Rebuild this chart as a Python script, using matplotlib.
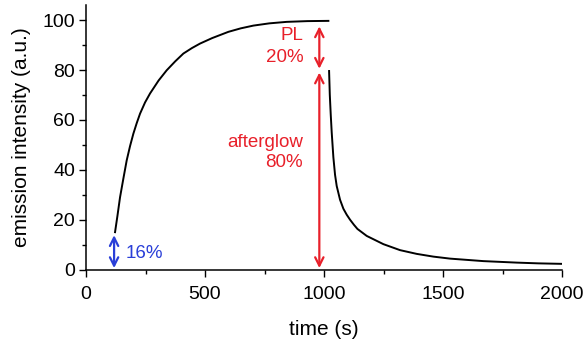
import matplotlib
matplotlib.use("Agg")
import matplotlib.pyplot as plt

plt.rcParams['font.family'] = ['Liberation Sans', 'DejaVu Sans']

# rise (excitation on)
rise_t = [122, 132, 143, 157, 171, 185, 199, 213, 227, 248, 269, 305, 339, 375, 409,
          445, 479, 530, 598, 650, 703, 770, 843, 930, 1018]
rise_y = [15, 21.5, 29, 36.5, 43.8, 49.5, 54.5, 58.7, 62.5, 67, 70.6, 75.8, 79.9, 83.5, 86.6,
          88.8, 90.6, 92.8, 95.3, 96.7, 97.8, 98.7, 99.3, 99.6, 99.7]

# decay (afterglow)
decay_t = [1021, 1024, 1028, 1032, 1039, 1046, 1053, 1067, 1081, 1095, 1109, 1125, 1140, 1179,
           1249, 1319, 1389, 1459, 1529, 1669, 1809, 1900, 2000]
decay_y = [79.6, 70, 62, 55, 45, 38, 33.5, 28, 24.4, 22, 20, 18, 16.3, 13.5,
           10.2, 7.8, 6.3, 5.2, 4.4, 3.4, 2.8, 2.5, 2.3]

xticks = [0, 500, 1000, 1500, 2000]
yticks = [0, 20, 40, 60, 80, 100]

red = '#e8202a'
blue = '#2a3fd8'

fig = plt.figure(figsize=(5.85, 3.43), dpi=100)
ax = fig.add_axes([0.147, 0.214, 0.814, 0.771])

ax.plot(rise_t, rise_y, color='black', lw=1.4, solid_joinstyle='round')
ax.plot(decay_t, decay_y, color='black', lw=1.4, solid_joinstyle='round')

ax.set_xlim(0, 2000)
ax.set_ylim(0, 106)
ax.set_xticks(xticks)
ax.set_yticks(yticks)
ax.set_xticks([250, 750, 1250, 1750], minor=True)
ax.set_yticks([10, 30, 50, 70, 90], minor=True)
ax.tick_params(which='major', length=5, width=1, labelsize=14, direction='out', pad=3)
ax.tick_params(axis='x', which='major', pad=7)
ax.tick_params(which='minor', length=3, width=1, direction='out')
for s in ['top', 'right']:
    ax.spines[s].set_visible(False)
for s in ['left', 'bottom']:
    ax.spines[s].set_linewidth(1.1)

ax.set_xlabel('time (s)', fontsize=15, labelpad=12)
ax.set_ylabel('emission intensity (a.u.)', fontsize=15, labelpad=8)

arrow_kw = dict(arrowstyle='<->', mutation_scale=15, lw=1.6, shrinkA=0, shrinkB=0)
ax.annotate('', xy=(980, 97.5), xytext=(980, 80.5), arrowprops=dict(color=red, **arrow_kw))
ax.annotate('', xy=(980, 79), xytext=(980, 0.6), arrowprops=dict(color=red, **arrow_kw))
ax.annotate('', xy=(118, 13.8), xytext=(118, 0.6), arrowprops=dict(color=blue, **arrow_kw))

fs = 13.5
ax.text(912, 94.0, 'PL', color=red, fontsize=fs, ha='right', va='center')
ax.text(912, 85.1, '20%', color=red, fontsize=fs, ha='right', va='center')
ax.text(912, 50.8, 'afterglow', color=red, fontsize=fs, ha='right', va='center')
ax.text(912, 42.8, '80%', color=red, fontsize=fs, ha='right', va='center')
ax.text(168, 6.5, '16%', color=blue, fontsize=fs, ha='left', va='center')

fig.savefig('out.png', dpi=100)
